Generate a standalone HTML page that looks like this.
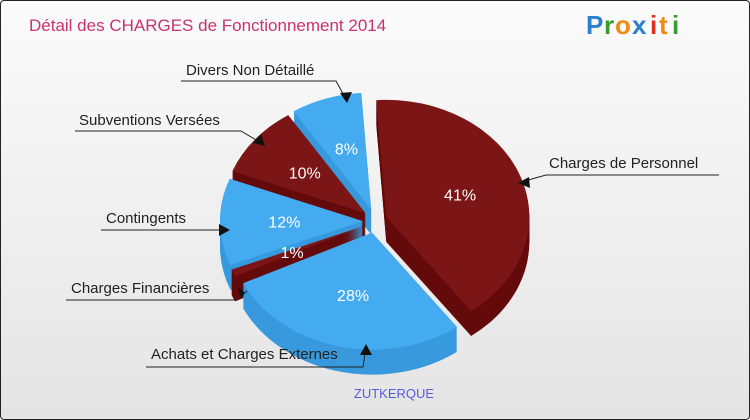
<!DOCTYPE html>
<html><head><meta charset="utf-8"><style>
html,body{margin:0;padding:0}
body{width:750px;height:420px;overflow:hidden;font-family:"Liberation Sans",sans-serif}
#wrap{position:relative;width:748px;height:418px;border:1px solid #222;border-radius:4px;background:linear-gradient(#fbfbfb,#e4e4e4);overflow:hidden}
</style></head><body>
<div id="wrap">
<svg id="chart" width="748" height="418" style="position:absolute;left:0;top:0">
<text x="28" y="30" font-size="17" fill="#c8336e">Détail des CHARGES de Fonctionnement 2014</text>
<g font-family="Liberation Sans" font-weight="bold" font-size="26">
<text x="585" y="33" fill="#2a7fd0">P</text><text x="603" y="33" fill="#3a9a30">r</text><text x="614" y="33" fill="#f08a10">o</text><text x="631" y="33" fill="#2a7fd0">x</text><text x="649" y="33" fill="#e03020">i</text><text x="658" y="33" fill="#f08a10">t</text><text x="671" y="33" fill="#3a9a30">i</text>
</g>
<g id="slices"></g>
<g id="pcts"></g>
<g font-size="15" fill="#222" stroke-width="1">
<text x="185" y="74">Divers Non Détaillé</text>
<polyline points="180,80 335,80 346,100" fill="none" stroke="#222"/>
<text x="78" y="124">Subventions Versées</text>
<polyline points="74,130 240,130 262,143" fill="none" stroke="#222"/>
<text x="105" y="222">Contingents</text>
<polyline points="100,229 225,229" fill="none" stroke="#222"/>
<text x="70" y="292">Charges Financières</text>
<polyline points="65,299 235,299 246,290" fill="none" stroke="#222"/>
<text x="150" y="358">Achats et Charges Externes</text>
<polyline points="145,366 362,366 365,346" fill="none" stroke="#222"/>
<text x="548" y="167">Charges de Personnel</text>
<polyline points="718,174 545,174 520,181" fill="none" stroke="#222"/>
<polygon points="346,102 339,92 351,91" fill="#111"/>
<polygon points="264,145 252,142 260,133" fill="#111"/>
<polygon points="229,229 218,223 218,235" fill="#111"/>
<polygon points="244,292 237,286 240,297" fill="#111"/>
<polygon points="365,343 359,354 371,354" fill="#111"/>
<polygon points="517,182 528,176 529,187" fill="#111"/>
</g>
<text x="393" y="397" font-size="13" fill="#5a5ae0" text-anchor="middle">ZUTKERQUE</text>
</svg>
</div>
<script>
const categories = ["Charges de Personnel","Achats et Charges Externes","Charges Financières","Contingents","Subventions Versées","Divers Non Détaillé"];
const values = [41,28,1,12,10,8];
const pctLabels = ["41%","28%","1%","12%","10%","8%"];
const colorKeys = ["red","blue","red","blue","red","blue"];
const NS="http://www.w3.org/2000/svg";
const cx=374,cy=220,rx=143,ry=117,depth=25,explode=12,start=-94;
const pal={red:{top:"#7b1516",side:"#640b0b"},blue:{top:"#44abf1",side:"#3899dd"}};
const total=values.reduce((a,b)=>a+b,0);
const g=document.getElementById('slices'),pg=document.getElementById('pcts');
let a=start;const sl=[];
values.forEach((v,i)=>{const s=a,e=a+v/total*360;a=e;sl.push({i,s,e,m:(s+e)/2});});
function path(s,oy){const t0=s.s*Math.PI/180,t1=s.e*Math.PI/180,mt=s.m*Math.PI/180;
 const ox=cx+explode*Math.cos(mt),oyy=cy+explode*Math.sin(mt)+oy;
 const x0=ox+rx*Math.cos(t0),y0=oyy+ry*Math.sin(t0),x1=ox+rx*Math.cos(t1),y1=oyy+ry*Math.sin(t1);
 const large=(s.e-s.s)>180?1:0;
 return `M${ox},${oyy} L${x0},${y0} A${rx},${ry} 0 ${large} 1 ${x1},${y1} Z`;}
const order=sl.slice().sort((p,q)=>Math.sin(p.m*Math.PI/180)-Math.sin(q.m*Math.PI/180));
order.forEach(s=>{
 const col=pal[colorKeys[s.i]];
 const sg=document.createElementNS(NS,'g');
 
 
 for(let d=depth;d>0;d-=1){const p=document.createElementNS(NS,'path');p.setAttribute('d',path(s,d));p.setAttribute('fill',col.side);sg.appendChild(p);}
 const top=document.createElementNS(NS,'path');top.setAttribute('d',path(s,0));top.setAttribute('fill',col.top);sg.appendChild(top);
 g.appendChild(sg);
});
sl.forEach(s=>{const mt=s.m*Math.PI/180;const r=0.55;
 const t=document.createElementNS(NS,'text');
 t.setAttribute('x',cx+(explode+rx*r)*Math.cos(mt));t.setAttribute('y',cy+(explode+ry*r)*Math.sin(mt)+6);
 t.setAttribute('fill','#fff');t.setAttribute('font-size','16');t.setAttribute('text-anchor','middle');
 
 
 t.textContent=pctLabels[s.i];pg.appendChild(t);});
</script>
</body></html>
